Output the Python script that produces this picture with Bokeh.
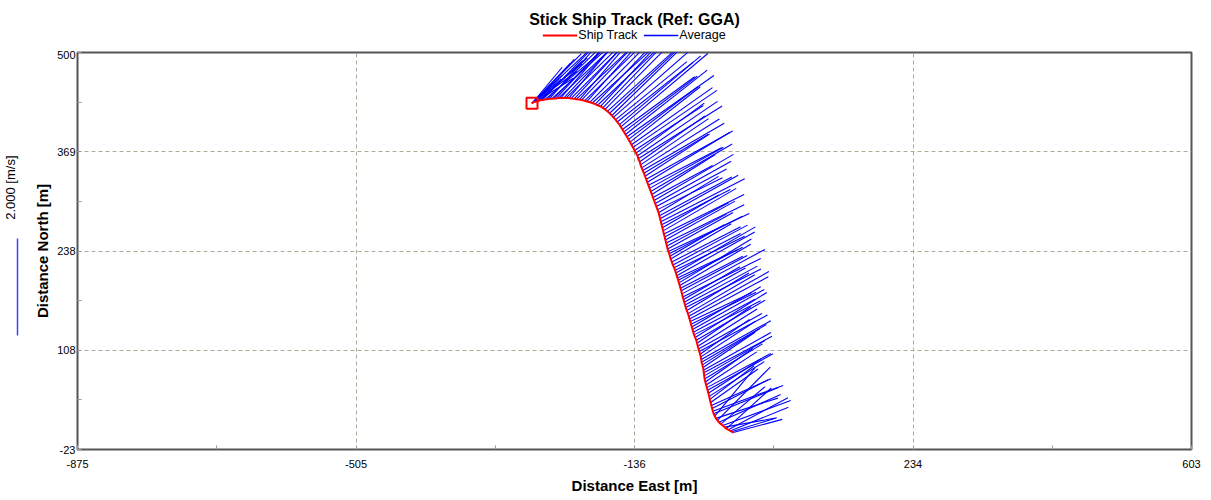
import math
from bokeh.plotting import figure
from bokeh.models import Range1d, FixedTicker, Legend, LegendItem, LinearAxis, Title
from bokeh.layouts import column
from bokeh.embed import file_html
from bokeh.resources import INLINE

# ---- data: ensemble positions [m] and depth-averaged velocity ----
track_east = [
    -272, -272, -272, -271, -271, -271, -270, -270, -269, -268, -266, -264,
    -261, -258, -255, -252, -249, -246, -243, -240, -237, -234, -230, -227, -223, -220, -216,
    -213, -209, -206, -202, -199, -195, -192, -188, -185, -181,
    -178, -175, -172, -169, -166, -164, -161, -159, -156, -154, -152, -150, -148, -146, -144,
    -142, -140, -138, -136, -134, -132, -131, -129, -128,
    -126.5, -125, -123.5, -122, -120.5, -119, -117.5, -116, -114.5, -113, -111.5, -110, -108.5,
    -107, -105.5, -104, -103, -102, -101, -100, -99, -98, -97, -96, -95, -94, -93, -92, -91, -90,
    -89, -88, -86.5, -85,
    -83.5, -82, -81, -80, -79, -78, -77, -76, -75, -74, -73, -72, -71, -70, -69, -68, -66.5, -65,
    -64, -63, -62, -61, -60, -59, -58, -57, -55.5, -54, -53, -52, -51, -50, -49, -48, -47.5, -47,
    -46, -45, -44.5, -44, -43.5, -43, -42, -41, -40, -39, -38, -37, -36, -35, -34, -33, -32, -31,
    -29.5, -28, -26, -24, -21.5, -19, -16.5, -14, -11.5, -9, -7, -5]
track_north = [
    433, 433, 433.5, 433.5, 434, 434, 434.5, 434.5, 435, 435, 435.5, 436,
    437, 437.5, 438, 438.5, 439, 439, 439.5, 439.5, 440, 440, 440, 440, 440, 439.5, 439,
    438.5, 438, 437.5, 436.5, 435.5, 434.5, 433.5, 432, 430.5, 429,
    427, 425, 422.5, 420, 417, 414.5, 411.5, 408.5, 405, 402, 398.5, 395.5, 392, 389, 385.5,
    382, 378.5, 375, 371, 367.5, 364, 360, 356, 352,
    348, 344.5, 341, 337, 333, 329, 325, 321, 317, 313, 309, 305, 301,
    297, 293, 289, 285, 281, 277, 273, 269, 265, 261, 257, 253, 249, 245, 241, 238, 235,
    231.5, 228, 224, 220,
    216.5, 213, 209.5, 206, 203, 200, 196.5, 193, 189.5, 186, 182, 178, 174.5, 171, 167.5, 164,
    160, 156, 152.5, 149, 145.5, 142, 138.5, 135, 131.5, 128, 124.5, 121, 117, 113, 109.5, 106,
    102.5, 99, 95.5, 92,
    88.5, 85, 81.5, 78, 74, 70, 66, 62, 58.5, 55, 51, 47, 43, 39, 35, 31, 27.5, 24,
    21, 18, 15.5, 13, 10.5, 8.6, 6.5, 4.5, 3, 1.5, 0.5, -0.7]
avg_speed = [  # m/s
    1.45, 1.15, 0.85, 0.60, 1.30, 0.95, 1.10, 0.75, 1.55, 1.20, 0.90, 1.35,
    1.20, 1.70, 1.40, 1.60, 1.85, 1.50, 1.95, 1.65, 2.00, 1.75, 2.10, 1.80, 2.20, 1.90, 2.30,
    2.05, 2.40, 1.95, 2.25, 2.00, 2.35, 2.10, 2.45, 2.15, 2.30,
    2.05, 2.40, 2.10, 1.95, 2.30, 2.25, 1.90, 2.00, 2.20, 2.35, 1.85, 1.90, 2.15, 2.20, 1.80,
    1.85, 2.05, 2.10, 1.70, 1.75, 2.00, 2.05, 1.65, 1.70,
    1.90, 1.95, 1.55, 1.60, 2.05, 2.00, 1.70, 1.75, 1.95, 1.55, 1.40, 1.90, 1.80,
    1.65, 1.50, 1.45, 1.70, 1.85, 1.95, 1.60, 1.35, 1.75, 1.85, 1.50, 1.65, 1.80, 1.40, 1.55,
    1.85, 1.70, 1.30, 1.45, 1.60, 1.75,
    1.55, 1.60, 1.90, 1.85, 1.40, 1.50, 1.75, 1.70, 1.45, 1.55, 1.95, 1.80, 1.35, 1.45, 1.70,
    1.75, 1.50, 1.60, 1.90, 1.85, 1.40, 1.50, 1.65, 1.70, 1.45, 1.55, 1.75, 1.65, 1.35, 1.45,
    1.50, 1.60, 1.25, 1.35, 1.65, 1.55,
    1.40, 1.30, 1.60, 1.60, 1.45, 1.40, 1.20, 1.25, 1.50, 1.55, 1.30, 1.35, 1.15, 1.20, 1.35,
    1.30, 1.55, 1.45,
    1.30, 1.35, 1.55, 1.40, 1.20, 1.50, 1.10, 1.25, 1.40, 1.30, 0.95, 1.05]
avg_direction = [  # degrees clockwise from north
    45, 44, 48, 46, 52, 40, 55, 50, 47, 43, 58, 49,
    47, 44, 50, 46, 42, 48, 45, 43, 47, 41, 44, 46, 40, 45, 43,
    47, 41, 44, 46, 42, 45, 48, 44, 47, 43,
    44, 45, 48, 47, 46, 49, 51, 52, 50, 50, 54, 53, 52, 55, 53,
    52, 55, 56, 57, 54, 56, 58, 55, 56,
    58, 60, 59, 57, 61, 59, 63, 61, 60, 58, 62, 60, 61,
    62, 64, 59, 62, 61, 63, 63, 60, 60, 64, 62, 61, 64, 62, 61, 65, 63,
    60, 60, 63, 62,
    63, 64, 60, 61, 65, 63, 59, 60, 63, 62, 62, 64, 60, 61, 62, 63, 59, 60,
    61, 62, 65, 64, 60, 61, 62, 63, 58, 60, 56, 58, 61, 62, 55, 57, 61, 60,
    58, 56, 61, 62, 60, 59, 55, 57, 62, 61, 57, 58, 53, 55, 66, 63, 70, 68,
    40, 72, 45, 66, 50, 70, 80, 48, 62, 68, 73, 75]

x_ticks = [-875, -505.5, -136, 233.5, 603]
x_tick_labels = ["-875", "-505", "-136", "234", "603"]
y_ticks = [-23, 107.75, 238.5, 369.25, 500]
y_tick_labels = ["-23", "108", "238", "369", "500"]
scale_bar_speed = 2.0      # m/s
stick_scale = 64.0         # metres of plot per m/s
scale_bar_base = 127.0     # north coordinate where the scale bar starts

assert len(track_east) == len(track_north) == len(avg_speed) == len(avg_direction)

FONT = "Liberation Sans"
TRACK_COLOR = "#FF0000"
STICK_COLOR = "#0000FF"
BAR_COLOR = "#4040FF"

# stick end points
stick_x1 = [e + s * math.sin(math.radians(d)) * stick_scale
            for e, s, d in zip(track_east, avg_speed, avg_direction)]
stick_y1 = [n + s * math.cos(math.radians(d)) * stick_scale
            for n, s, d in zip(track_north, avg_speed, avg_direction)]

# ---------------- header: title + legend ----------------
h = figure(width=1211, height=50, x_range=Range1d(0, 1), y_range=Range1d(0, 1),
           x_axis_type=None, y_axis_type=None,
           output_backend="svg", toolbar_location=None,
           min_border_left=76, min_border_right=20, min_border_top=27, min_border_bottom=0)
h.grid.visible = False
h.outline_line_color = None
h.title.text = "Stick Ship Track (Ref: GGA)"
h.title.align = "center"
h.title.text_font = FONT
h.title.text_font_size = "16px"
h.title.text_font_style = "bold"
h.title.text_color = "#000000"
h.title.standoff = 0
# legend proxies (their points lie outside the header's ranges, so only the legend shows them)
leg_track = h.line(x=[-2, -1], y=[-2, -1], line_color=TRACK_COLOR, line_width=2)
leg_avg = h.line(x=[-2, -1], y=[-2, -1], line_color=STICK_COLOR, line_width=1.5)
legend = Legend(items=[LegendItem(label="Ship Track", renderers=[leg_track]),
                       LegendItem(label="Average", renderers=[leg_avg])],
                orientation="horizontal", location="top_center",
                label_text_font=FONT, label_text_font_size="12.5px", label_text_color="#000000",
                glyph_width=35, glyph_height=12, label_height=12, label_standoff=1,
                spacing=6, padding=0, margin=1,
                background_fill_alpha=0, border_line_color=None)
h.add_layout(legend)

# ---------------- main plot ----------------
p = figure(width=1211, height=450, x_range=Range1d(-875, 603), y_range=Range1d(-23, 500),
           output_backend="svg", toolbar_location=None,
           min_border_left=76, min_border_right=20, min_border_top=2, min_border_bottom=51)
p.title.visible = False

p.segment(x0=track_east, y0=track_north, x1=stick_x1, y1=stick_y1,
          line_color=STICK_COLOR, line_width=1.1)
p.line(track_east, track_north, line_color=TRACK_COLOR, line_width=2)
p.scatter([track_east[0]], [track_north[0]], marker="square", size=11,
          fill_color=None, line_color=TRACK_COLOR, line_width=2)

p.xaxis.ticker = FixedTicker(ticks=x_ticks,
                             minor_ticks=[(a + b) / 2 for a, b in zip(x_ticks[:-1], x_ticks[1:])])
p.yaxis.ticker = FixedTicker(ticks=y_ticks,
                             minor_ticks=[(a + b) / 2 for a, b in zip(y_ticks[:-1], y_ticks[1:])])
p.xaxis.major_label_overrides = dict(zip(x_ticks, x_tick_labels))
p.yaxis.major_label_overrides = dict(zip(y_ticks, y_tick_labels))
p.xaxis.axis_label = "Distance East [m]"
p.yaxis.axis_label = "Distance North [m]"
for ax in (p.xaxis, p.yaxis):
    ax.axis_label_text_font = FONT
    ax.axis_label_text_font_size = "15px"
    ax.axis_label_text_font_style = "bold"
    ax.axis_label_text_color = "#000000"
    ax.major_label_text_font = FONT
    ax.major_label_text_font_size = "11px"
    ax.major_label_text_color = "#000000"
    ax.axis_line_color = None
    ax.major_tick_in = 4
    ax.major_tick_out = 0
    ax.minor_tick_in = 4
    ax.minor_tick_out = 0
    ax.major_tick_line_color = "#999999"
    ax.minor_tick_line_color = "#999999"
p.xaxis.major_label_standoff = 10
p.xaxis.axis_label_standoff = 6
p.yaxis.major_label_standoff = 2
p.yaxis.axis_label_standoff = 3

# left: spacer, speed scale bar (an axis rule limited by bounds), scale text
p.add_layout(Title(text=" ", text_font_size="1px", standoff=11), "left")
bar_axis = LinearAxis(ticker=FixedTicker(ticks=[]),
                      bounds=(scale_bar_base, scale_bar_base + scale_bar_speed * stick_scale),
                      major_tick_in=0, major_tick_out=0, minor_tick_in=0, minor_tick_out=0,
                      major_label_text_font_size="0px")
p.add_layout(bar_axis, "left")
bar_axis.axis_line_color = BAR_COLOR
bar_axis.axis_line_width = 1.5
p.add_layout(Title(text="%.3f [m/s]" % scale_bar_speed, align="right", offset=103, standoff=0,
                   text_font=FONT, text_font_size="13px", text_font_style="normal",
                   text_color="#000000"), "left")

p.grid.grid_line_color = "#B0AA98"
p.grid.grid_line_dash = "4 3"
p.grid.grid_line_width = 1
p.outline_line_color = "#555555"
p.outline_line_width = 2
p.background_fill_color = "#FFFFFF"
p.border_fill_color = "#FFFFFF"

open("out.html", "w").write(file_html(column(h, p, spacing=0), INLINE))
